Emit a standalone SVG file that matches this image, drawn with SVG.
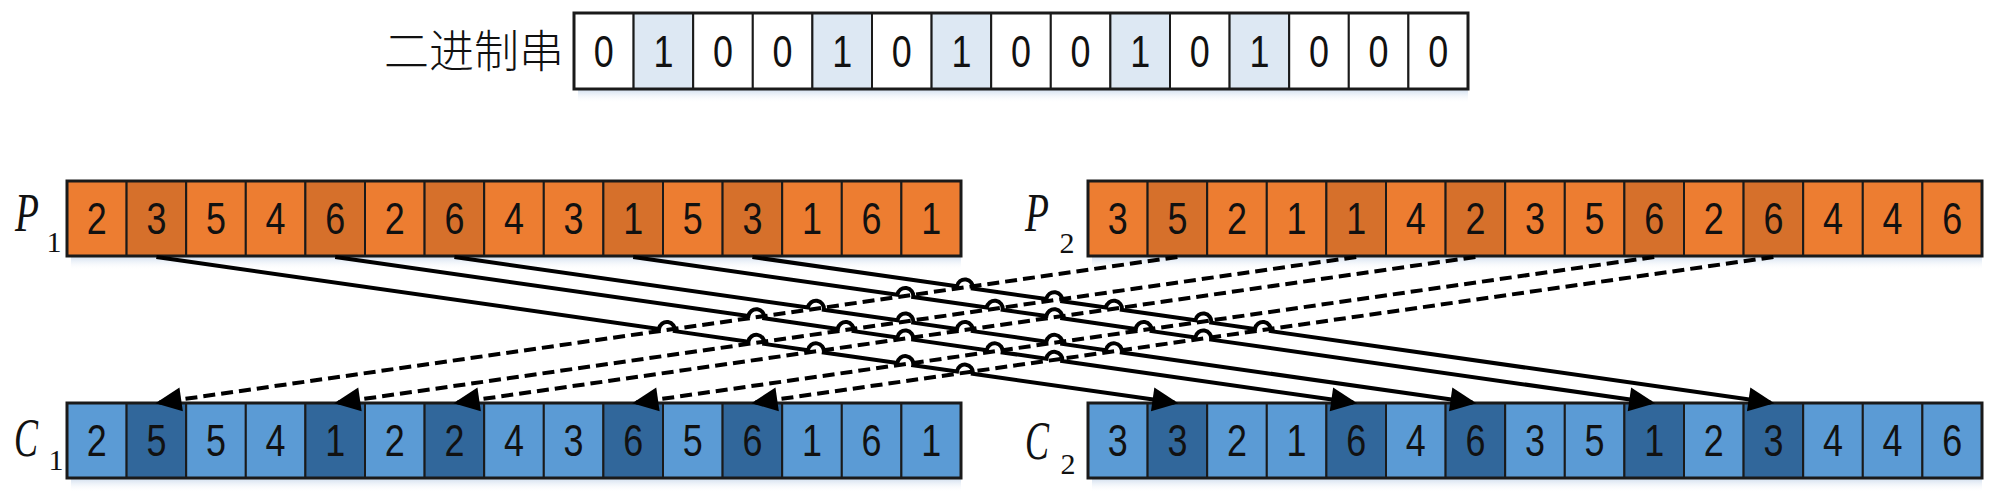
<svg xmlns="http://www.w3.org/2000/svg" width="1999" height="503" viewBox="0 0 1999 503">
<style>
.c{stroke:#1a1a1a;stroke-width:2}
.o{fill:none;stroke:#1a1a1a;stroke-width:3}
.w{fill:#ffffff}.lb{fill:#dde8f3}
.or{fill:#ed7d31}.od{fill:#d6702b}
.bl{fill:#5b9bd5}.bd{fill:#31679b}
.t{font-family:"Liberation Sans",Arial,sans-serif;font-size:44px;fill:#111;text-anchor:middle}
.lab{font-family:"Liberation Serif","Times New Roman",serif;font-style:italic;font-size:54px;fill:#111}
.sub{font-family:"Liberation Serif","Times New Roman",serif;font-size:30px;fill:#111;text-anchor:middle}
.cn{font-family:"Noto Sans CJK SC","Noto Sans CJK JP",sans-serif;font-weight:300;font-size:45px;fill:#111}
.sol{fill:none;stroke:#000;stroke-width:4}
.dsh{fill:none;stroke:#000;stroke-width:4;stroke-dasharray:12 6}
.sh{fill:url(#shd)}
</style>
<defs>
<linearGradient id="shd" x1="0" y1="0" x2="0" y2="1">
<stop offset="0" stop-color="#c9d9ec" stop-opacity="0.8"/>
<stop offset="1" stop-color="#ffffff" stop-opacity="0"/>
</linearGradient>
<marker id="ah" markerUnits="userSpaceOnUse" markerWidth="28" markerHeight="26" refX="22" refY="12" orient="auto" overflow="visible">
<path d="M0,0 L26,12 L0,24 z" fill="#000"/>
</marker>
</defs>
<rect width="1999" height="503" fill="#ffffff"/>

<g id="binary">
<text class="cn" x="384" y="68">二进制串</text>
<rect class="sh" x="578" y="90" width="890" height="13"/>
<rect class="c w" x="574" y="13" width="59.6" height="76"/>
<rect class="c lb" x="633.6" y="13" width="59.6" height="76"/>
<rect class="c w" x="693.2" y="13" width="59.6" height="76"/>
<rect class="c w" x="752.8" y="13" width="59.6" height="76"/>
<rect class="c lb" x="812.4" y="13" width="59.6" height="76"/>
<rect class="c w" x="872" y="13" width="59.6" height="76"/>
<rect class="c lb" x="931.6" y="13" width="59.6" height="76"/>
<rect class="c w" x="991.2" y="13" width="59.6" height="76"/>
<rect class="c w" x="1050.8" y="13" width="59.6" height="76"/>
<rect class="c lb" x="1110.4" y="13" width="59.6" height="76"/>
<rect class="c w" x="1170" y="13" width="59.6" height="76"/>
<rect class="c lb" x="1229.6" y="13" width="59.6" height="76"/>
<rect class="c w" x="1289.2" y="13" width="59.6" height="76"/>
<rect class="c w" x="1348.8" y="13" width="59.6" height="76"/>
<rect class="c w" x="1408.4" y="13" width="59.6" height="76"/>
<rect class="o" x="574" y="13" width="894" height="76"/>
<text class="t" textLength="20" lengthAdjust="spacingAndGlyphs" x="603.8" y="67">0</text>
<text class="t" textLength="20" lengthAdjust="spacingAndGlyphs" x="663.4" y="67">1</text>
<text class="t" textLength="20" lengthAdjust="spacingAndGlyphs" x="723" y="67">0</text>
<text class="t" textLength="20" lengthAdjust="spacingAndGlyphs" x="782.6" y="67">0</text>
<text class="t" textLength="20" lengthAdjust="spacingAndGlyphs" x="842.2" y="67">1</text>
<text class="t" textLength="20" lengthAdjust="spacingAndGlyphs" x="901.8" y="67">0</text>
<text class="t" textLength="20" lengthAdjust="spacingAndGlyphs" x="961.4" y="67">1</text>
<text class="t" textLength="20" lengthAdjust="spacingAndGlyphs" x="1021" y="67">0</text>
<text class="t" textLength="20" lengthAdjust="spacingAndGlyphs" x="1080.6" y="67">0</text>
<text class="t" textLength="20" lengthAdjust="spacingAndGlyphs" x="1140.2" y="67">1</text>
<text class="t" textLength="20" lengthAdjust="spacingAndGlyphs" x="1199.8" y="67">0</text>
<text class="t" textLength="20" lengthAdjust="spacingAndGlyphs" x="1259.4" y="67">1</text>
<text class="t" textLength="20" lengthAdjust="spacingAndGlyphs" x="1319" y="67">0</text>
<text class="t" textLength="20" lengthAdjust="spacingAndGlyphs" x="1378.6" y="67">0</text>
<text class="t" textLength="20" lengthAdjust="spacingAndGlyphs" x="1438.2" y="67">0</text>
</g>

<g id="P1">
<text class="lab" x="15" y="231" textLength="24" lengthAdjust="spacingAndGlyphs">P</text>
<text class="sub" x="54" y="252">1</text>
<rect class="sh" x="71" y="257" width="890" height="13"/>
<rect class="c or" x="67" y="181" width="59.6" height="75"/>
<rect class="c od" x="126.6" y="181" width="59.6" height="75"/>
<rect class="c or" x="186.2" y="181" width="59.6" height="75"/>
<rect class="c or" x="245.8" y="181" width="59.6" height="75"/>
<rect class="c od" x="305.4" y="181" width="59.6" height="75"/>
<rect class="c or" x="365" y="181" width="59.6" height="75"/>
<rect class="c od" x="424.6" y="181" width="59.6" height="75"/>
<rect class="c or" x="484.2" y="181" width="59.6" height="75"/>
<rect class="c or" x="543.8" y="181" width="59.6" height="75"/>
<rect class="c od" x="603.4" y="181" width="59.6" height="75"/>
<rect class="c or" x="663" y="181" width="59.6" height="75"/>
<rect class="c od" x="722.6" y="181" width="59.6" height="75"/>
<rect class="c or" x="782.2" y="181" width="59.6" height="75"/>
<rect class="c or" x="841.8" y="181" width="59.6" height="75"/>
<rect class="c or" x="901.4" y="181" width="59.6" height="75"/>
<rect class="o" x="67" y="181" width="894" height="75"/>
<text class="t" textLength="20" lengthAdjust="spacingAndGlyphs" x="96.8" y="234">2</text>
<text class="t" textLength="20" lengthAdjust="spacingAndGlyphs" x="156.4" y="234">3</text>
<text class="t" textLength="20" lengthAdjust="spacingAndGlyphs" x="216" y="234">5</text>
<text class="t" textLength="20" lengthAdjust="spacingAndGlyphs" x="275.6" y="234">4</text>
<text class="t" textLength="20" lengthAdjust="spacingAndGlyphs" x="335.2" y="234">6</text>
<text class="t" textLength="20" lengthAdjust="spacingAndGlyphs" x="394.8" y="234">2</text>
<text class="t" textLength="20" lengthAdjust="spacingAndGlyphs" x="454.4" y="234">6</text>
<text class="t" textLength="20" lengthAdjust="spacingAndGlyphs" x="514" y="234">4</text>
<text class="t" textLength="20" lengthAdjust="spacingAndGlyphs" x="573.6" y="234">3</text>
<text class="t" textLength="20" lengthAdjust="spacingAndGlyphs" x="633.2" y="234">1</text>
<text class="t" textLength="20" lengthAdjust="spacingAndGlyphs" x="692.8" y="234">5</text>
<text class="t" textLength="20" lengthAdjust="spacingAndGlyphs" x="752.4" y="234">3</text>
<text class="t" textLength="20" lengthAdjust="spacingAndGlyphs" x="812" y="234">1</text>
<text class="t" textLength="20" lengthAdjust="spacingAndGlyphs" x="871.6" y="234">6</text>
<text class="t" textLength="20" lengthAdjust="spacingAndGlyphs" x="931.2" y="234">1</text>
</g>

<g id="P2">
<text class="lab" x="1025" y="231" textLength="24" lengthAdjust="spacingAndGlyphs">P</text>
<text class="sub" x="1067" y="253">2</text>
<rect class="sh" x="1092" y="257" width="890" height="13"/>
<rect class="c or" x="1088" y="181" width="59.6" height="75"/>
<rect class="c od" x="1147.6" y="181" width="59.6" height="75"/>
<rect class="c or" x="1207.2" y="181" width="59.6" height="75"/>
<rect class="c or" x="1266.8" y="181" width="59.6" height="75"/>
<rect class="c od" x="1326.4" y="181" width="59.6" height="75"/>
<rect class="c or" x="1386" y="181" width="59.6" height="75"/>
<rect class="c od" x="1445.6" y="181" width="59.6" height="75"/>
<rect class="c or" x="1505.2" y="181" width="59.6" height="75"/>
<rect class="c or" x="1564.8" y="181" width="59.6" height="75"/>
<rect class="c od" x="1624.4" y="181" width="59.6" height="75"/>
<rect class="c or" x="1684" y="181" width="59.6" height="75"/>
<rect class="c od" x="1743.6" y="181" width="59.6" height="75"/>
<rect class="c or" x="1803.2" y="181" width="59.6" height="75"/>
<rect class="c or" x="1862.8" y="181" width="59.6" height="75"/>
<rect class="c or" x="1922.4" y="181" width="59.6" height="75"/>
<rect class="o" x="1088" y="181" width="894" height="75"/>
<text class="t" textLength="20" lengthAdjust="spacingAndGlyphs" x="1117.8" y="234">3</text>
<text class="t" textLength="20" lengthAdjust="spacingAndGlyphs" x="1177.4" y="234">5</text>
<text class="t" textLength="20" lengthAdjust="spacingAndGlyphs" x="1237" y="234">2</text>
<text class="t" textLength="20" lengthAdjust="spacingAndGlyphs" x="1296.6" y="234">1</text>
<text class="t" textLength="20" lengthAdjust="spacingAndGlyphs" x="1356.2" y="234">1</text>
<text class="t" textLength="20" lengthAdjust="spacingAndGlyphs" x="1415.8" y="234">4</text>
<text class="t" textLength="20" lengthAdjust="spacingAndGlyphs" x="1475.4" y="234">2</text>
<text class="t" textLength="20" lengthAdjust="spacingAndGlyphs" x="1535" y="234">3</text>
<text class="t" textLength="20" lengthAdjust="spacingAndGlyphs" x="1594.6" y="234">5</text>
<text class="t" textLength="20" lengthAdjust="spacingAndGlyphs" x="1654.2" y="234">6</text>
<text class="t" textLength="20" lengthAdjust="spacingAndGlyphs" x="1713.8" y="234">2</text>
<text class="t" textLength="20" lengthAdjust="spacingAndGlyphs" x="1773.4" y="234">6</text>
<text class="t" textLength="20" lengthAdjust="spacingAndGlyphs" x="1833" y="234">4</text>
<text class="t" textLength="20" lengthAdjust="spacingAndGlyphs" x="1892.6" y="234">4</text>
<text class="t" textLength="20" lengthAdjust="spacingAndGlyphs" x="1952.2" y="234">6</text>
</g>

<g id="C1">
<text class="lab" x="14" y="456" textLength="24" lengthAdjust="spacingAndGlyphs">C</text>
<text class="sub" x="56" y="470">1</text>
<rect class="sh" x="71" y="479" width="890" height="13"/>
<rect class="c bl" x="67" y="403" width="59.6" height="75"/>
<rect class="c bd" x="126.6" y="403" width="59.6" height="75"/>
<rect class="c bl" x="186.2" y="403" width="59.6" height="75"/>
<rect class="c bl" x="245.8" y="403" width="59.6" height="75"/>
<rect class="c bd" x="305.4" y="403" width="59.6" height="75"/>
<rect class="c bl" x="365" y="403" width="59.6" height="75"/>
<rect class="c bd" x="424.6" y="403" width="59.6" height="75"/>
<rect class="c bl" x="484.2" y="403" width="59.6" height="75"/>
<rect class="c bl" x="543.8" y="403" width="59.6" height="75"/>
<rect class="c bd" x="603.4" y="403" width="59.6" height="75"/>
<rect class="c bl" x="663" y="403" width="59.6" height="75"/>
<rect class="c bd" x="722.6" y="403" width="59.6" height="75"/>
<rect class="c bl" x="782.2" y="403" width="59.6" height="75"/>
<rect class="c bl" x="841.8" y="403" width="59.6" height="75"/>
<rect class="c bl" x="901.4" y="403" width="59.6" height="75"/>
<rect class="o" x="67" y="403" width="894" height="75"/>
<text class="t" textLength="20" lengthAdjust="spacingAndGlyphs" x="96.8" y="456">2</text>
<text class="t" textLength="20" lengthAdjust="spacingAndGlyphs" x="156.4" y="456">5</text>
<text class="t" textLength="20" lengthAdjust="spacingAndGlyphs" x="216" y="456">5</text>
<text class="t" textLength="20" lengthAdjust="spacingAndGlyphs" x="275.6" y="456">4</text>
<text class="t" textLength="20" lengthAdjust="spacingAndGlyphs" x="335.2" y="456">1</text>
<text class="t" textLength="20" lengthAdjust="spacingAndGlyphs" x="394.8" y="456">2</text>
<text class="t" textLength="20" lengthAdjust="spacingAndGlyphs" x="454.4" y="456">2</text>
<text class="t" textLength="20" lengthAdjust="spacingAndGlyphs" x="514" y="456">4</text>
<text class="t" textLength="20" lengthAdjust="spacingAndGlyphs" x="573.6" y="456">3</text>
<text class="t" textLength="20" lengthAdjust="spacingAndGlyphs" x="633.2" y="456">6</text>
<text class="t" textLength="20" lengthAdjust="spacingAndGlyphs" x="692.8" y="456">5</text>
<text class="t" textLength="20" lengthAdjust="spacingAndGlyphs" x="752.4" y="456">6</text>
<text class="t" textLength="20" lengthAdjust="spacingAndGlyphs" x="812" y="456">1</text>
<text class="t" textLength="20" lengthAdjust="spacingAndGlyphs" x="871.6" y="456">6</text>
<text class="t" textLength="20" lengthAdjust="spacingAndGlyphs" x="931.2" y="456">1</text>
</g>

<g id="C2">
<text class="lab" x="1025" y="459" textLength="24" lengthAdjust="spacingAndGlyphs">C</text>
<text class="sub" x="1068" y="474">2</text>
<rect class="sh" x="1092" y="479" width="890" height="13"/>
<rect class="c bl" x="1088" y="403" width="59.6" height="75"/>
<rect class="c bd" x="1147.6" y="403" width="59.6" height="75"/>
<rect class="c bl" x="1207.2" y="403" width="59.6" height="75"/>
<rect class="c bl" x="1266.8" y="403" width="59.6" height="75"/>
<rect class="c bd" x="1326.4" y="403" width="59.6" height="75"/>
<rect class="c bl" x="1386" y="403" width="59.6" height="75"/>
<rect class="c bd" x="1445.6" y="403" width="59.6" height="75"/>
<rect class="c bl" x="1505.2" y="403" width="59.6" height="75"/>
<rect class="c bl" x="1564.8" y="403" width="59.6" height="75"/>
<rect class="c bd" x="1624.4" y="403" width="59.6" height="75"/>
<rect class="c bl" x="1684" y="403" width="59.6" height="75"/>
<rect class="c bd" x="1743.6" y="403" width="59.6" height="75"/>
<rect class="c bl" x="1803.2" y="403" width="59.6" height="75"/>
<rect class="c bl" x="1862.8" y="403" width="59.6" height="75"/>
<rect class="c bl" x="1922.4" y="403" width="59.6" height="75"/>
<rect class="o" x="1088" y="403" width="894" height="75"/>
<text class="t" textLength="20" lengthAdjust="spacingAndGlyphs" x="1117.8" y="456">3</text>
<text class="t" textLength="20" lengthAdjust="spacingAndGlyphs" x="1177.4" y="456">3</text>
<text class="t" textLength="20" lengthAdjust="spacingAndGlyphs" x="1237" y="456">2</text>
<text class="t" textLength="20" lengthAdjust="spacingAndGlyphs" x="1296.6" y="456">1</text>
<text class="t" textLength="20" lengthAdjust="spacingAndGlyphs" x="1356.2" y="456">6</text>
<text class="t" textLength="20" lengthAdjust="spacingAndGlyphs" x="1415.8" y="456">4</text>
<text class="t" textLength="20" lengthAdjust="spacingAndGlyphs" x="1475.4" y="456">6</text>
<text class="t" textLength="20" lengthAdjust="spacingAndGlyphs" x="1535" y="456">3</text>
<text class="t" textLength="20" lengthAdjust="spacingAndGlyphs" x="1594.6" y="456">5</text>
<text class="t" textLength="20" lengthAdjust="spacingAndGlyphs" x="1654.2" y="456">1</text>
<text class="t" textLength="20" lengthAdjust="spacingAndGlyphs" x="1713.8" y="456">2</text>
<text class="t" textLength="20" lengthAdjust="spacingAndGlyphs" x="1773.4" y="456">3</text>
<text class="t" textLength="20" lengthAdjust="spacingAndGlyphs" x="1833" y="456">4</text>
<text class="t" textLength="20" lengthAdjust="spacingAndGlyphs" x="1892.6" y="456">4</text>
<text class="t" textLength="20" lengthAdjust="spacingAndGlyphs" x="1952.2" y="456">6</text>
</g>

<g id="connectors">
<path class="dsh" marker-end="url(#ah)" d="M1177.4,257 L159.37,402.58"/>
<path class="dsh" marker-end="url(#ah)" d="M1356.2,257 L338.17,402.58"/>
<path class="dsh" marker-end="url(#ah)" d="M1475.4,257 L457.37,402.58"/>
<path class="dsh" marker-end="url(#ah)" d="M1654.2,257 L636.17,402.58"/>
<path class="dsh" marker-end="url(#ah)" d="M1773.4,257 L755.37,402.58"/>
<path class="sol" marker-end="url(#ah)" d="M156.4,257 L658.98,328.87 A8,8 0 0 1 674.82,331.13 L748.38,341.65 A8,8 0 0 1 764.22,343.91 L807.98,350.18 A8,8 0 0 1 823.82,352.44 L897.38,362.96 A8,8 0 0 1 913.22,365.22 L956.98,371.48 A8,8 0 0 1 972.82,373.74 L1174.43,402.58"/>
<path class="sol" marker-end="url(#ah)" d="M335.2,257 L748.38,316.09 A8,8 0 0 1 764.22,318.35 L837.78,328.87 A8,8 0 0 1 853.62,331.13 L897.38,337.39 A8,8 0 0 1 913.22,339.65 L986.78,350.18 A8,8 0 0 1 1002.62,352.44 L1046.38,358.70 A8,8 0 0 1 1062.22,360.96 L1353.23,402.58"/>
<path class="sol" marker-end="url(#ah)" d="M454.4,257 L807.98,307.56 A8,8 0 0 1 823.82,309.82 L897.38,320.35 A8,8 0 0 1 913.22,322.61 L956.98,328.87 A8,8 0 0 1 972.82,331.13 L1046.38,341.65 A8,8 0 0 1 1062.22,343.91 L1105.98,350.18 A8,8 0 0 1 1121.82,352.44 L1472.43,402.58"/>
<path class="sol" marker-end="url(#ah)" d="M633.2,257 L897.38,294.78 A8,8 0 0 1 913.22,297.04 L986.78,307.56 A8,8 0 0 1 1002.62,309.82 L1046.38,316.09 A8,8 0 0 1 1062.22,318.35 L1135.78,328.87 A8,8 0 0 1 1151.62,331.13 L1195.38,337.39 A8,8 0 0 1 1211.22,339.65 L1651.23,402.58"/>
<path class="sol" marker-end="url(#ah)" d="M752.4,257 L956.98,286.26 A8,8 0 0 1 972.82,288.52 L1046.38,299.04 A8,8 0 0 1 1062.22,301.30 L1105.98,307.56 A8,8 0 0 1 1121.82,309.82 L1195.38,320.35 A8,8 0 0 1 1211.22,322.61 L1254.98,328.87 A8,8 0 0 1 1270.82,331.13 L1770.43,402.58"/>
</g>
</svg>
